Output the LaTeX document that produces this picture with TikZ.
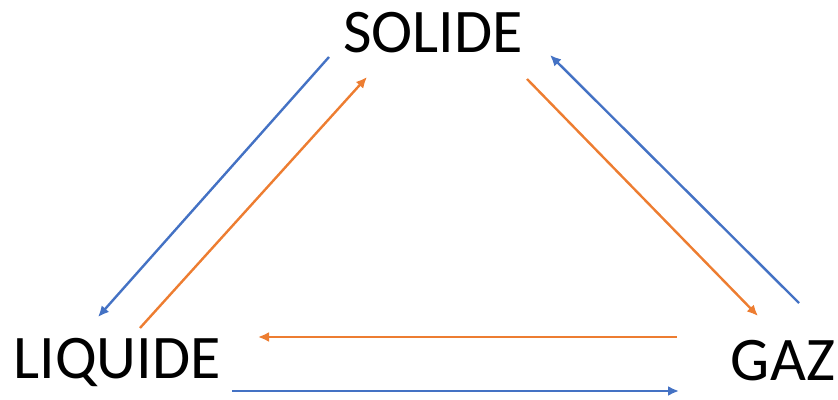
\documentclass[tikz,border=0pt]{standalone}
\usepackage{fontspec}
\setmainfont{Carlito}
\usetikzlibrary{arrows.meta}
\definecolor{flowblue}{HTML}{4472C4}
\definecolor{floworange}{HTML}{ED7D31}
\begin{document}
\begin{tikzpicture}[x=1pt,y=1pt,
  state/.style={inner sep=0pt,font=\fontsize{62}{62}\selectfont},
  flow/.style={line width=2.4pt,-{Latex[length=11pt,width=10pt]}},
  blueflow/.style={flow,draw=flowblue},
  orangeflow/.style={flow,draw=floworange}]
\useasboundingbox (0,0) rectangle (838,399);
% the three states of matter
\node[state] (sol) at (433,366) {SOLIDE};
\node[state] (liq) at (117,37) {LIQUIDE};
\node[state] (gaz) at (783,38) {GAZ};
% arrow end points
\coordinate (a1) at (329,342);
\coordinate (a2) at (98,82);
\coordinate (b1) at (140,71);
\coordinate (b2) at (367,322);
\coordinate (c1) at (527,320);
\coordinate (c2) at (758,83);
\coordinate (d1) at (799,96);
\coordinate (d2) at (550,344);
\coordinate (e1) at (677,62);
\coordinate (e2) at (258,62);
\coordinate (f1) at (232,8);
\coordinate (f2) at (679,8);
% transitions
\draw[blueflow] (a1) -- (a2);
\draw[orangeflow] (b1) -- (b2);
\draw[orangeflow] (c1) -- (c2);
\draw[blueflow] (d1) -- (d2);
\draw[orangeflow] (e1) -- (e2);
\draw[blueflow] (f1) -- (f2);
\end{tikzpicture}
\end{document}
